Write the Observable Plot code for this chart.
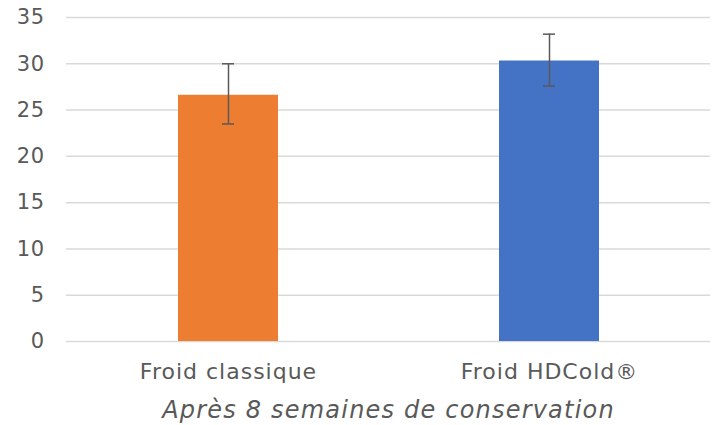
<!DOCTYPE html>
<html><head><meta charset="utf-8">
<script src="https://cdn.jsdelivr.net/npm/d3@7"></script>
<script src="https://cdn.jsdelivr.net/npm/@observablehq/plot@0.6"></script>
<style>
body{margin:0;background:#fff;}
#chart svg{font-family:"DejaVu Sans",sans-serif;}
#chart g[aria-label="x-axis tick label"] text{letter-spacing:1px;}
#chart g[aria-label="y-axis tick label"] text{letter-spacing:0.5px;}
#chart g[aria-label="x-axis label"] text{font-style:italic;letter-spacing:1.2px;}
</style>
</head><body><div id="chart"></div>
<script>
const categories = ["Froid classique", "Froid HDCold®"];
const values = [26.6, 30.3];
const errLow = [23.5, 27.6];
const errHigh = [30.0, 33.2];
const colors = ["#ED7D31", "#4472C4"];
const yTicks = [0, 5, 10, 15, 20, 25, 30, 35];
const axisTitle = "Après 8 semaines de conservation";

const data = categories.map((c, i) => ({cat: c, v: values[i], lo: errLow[i], hi: errHigh[i]}));

const chart = Plot.plot({
  width: 718, height: 425,
  marginLeft: 66, marginRight: 8, marginTop: 17, marginBottom: 84,
  style: {fontFamily: "DejaVu Sans, sans-serif", color: "#595959", background: "#fff"},
  x: {domain: categories, paddingInner: 0.689, paddingOuter: 0.345},
  y: {domain: [0, 35]},
  color: {domain: categories, range: colors},
  marks: [
    Plot.gridY(yTicks, {stroke: "#d9d9d9", strokeOpacity: 1, strokeWidth: 1.5}),
    Plot.axisY(yTicks, {tickSize: 0, tickPadding: 22, fontSize: 21, label: null}),
    Plot.axisX({tickSize: 0, tickPadding: 22, fontSize: 22, label: axisTitle, labelAnchor: "center", labelArrow: "none", labelOffset: 76}),
    Plot.barY(data, {x: "cat", y: "v", fill: "cat"}),
    Plot.ruleX(data, {x: "cat", y1: "lo", y2: "hi", stroke: "#595959", strokeWidth: 1.5}),
    Plot.tickY(data, {x: "cat", y: "lo", stroke: "#595959", strokeWidth: 1.5, insetLeft: 44, insetRight: 44}),
    Plot.tickY(data, {x: "cat", y: "hi", stroke: "#595959", strokeWidth: 1.5, insetLeft: 44, insetRight: 44})
  ]
});
document.getElementById("chart").appendChild(chart);
const lab = chart.querySelector('g[aria-label="x-axis label"]');
if (lab) { lab.setAttribute("font-size", "24"); lab.setAttribute("font-style", "italic"); }
</script></body></html>
